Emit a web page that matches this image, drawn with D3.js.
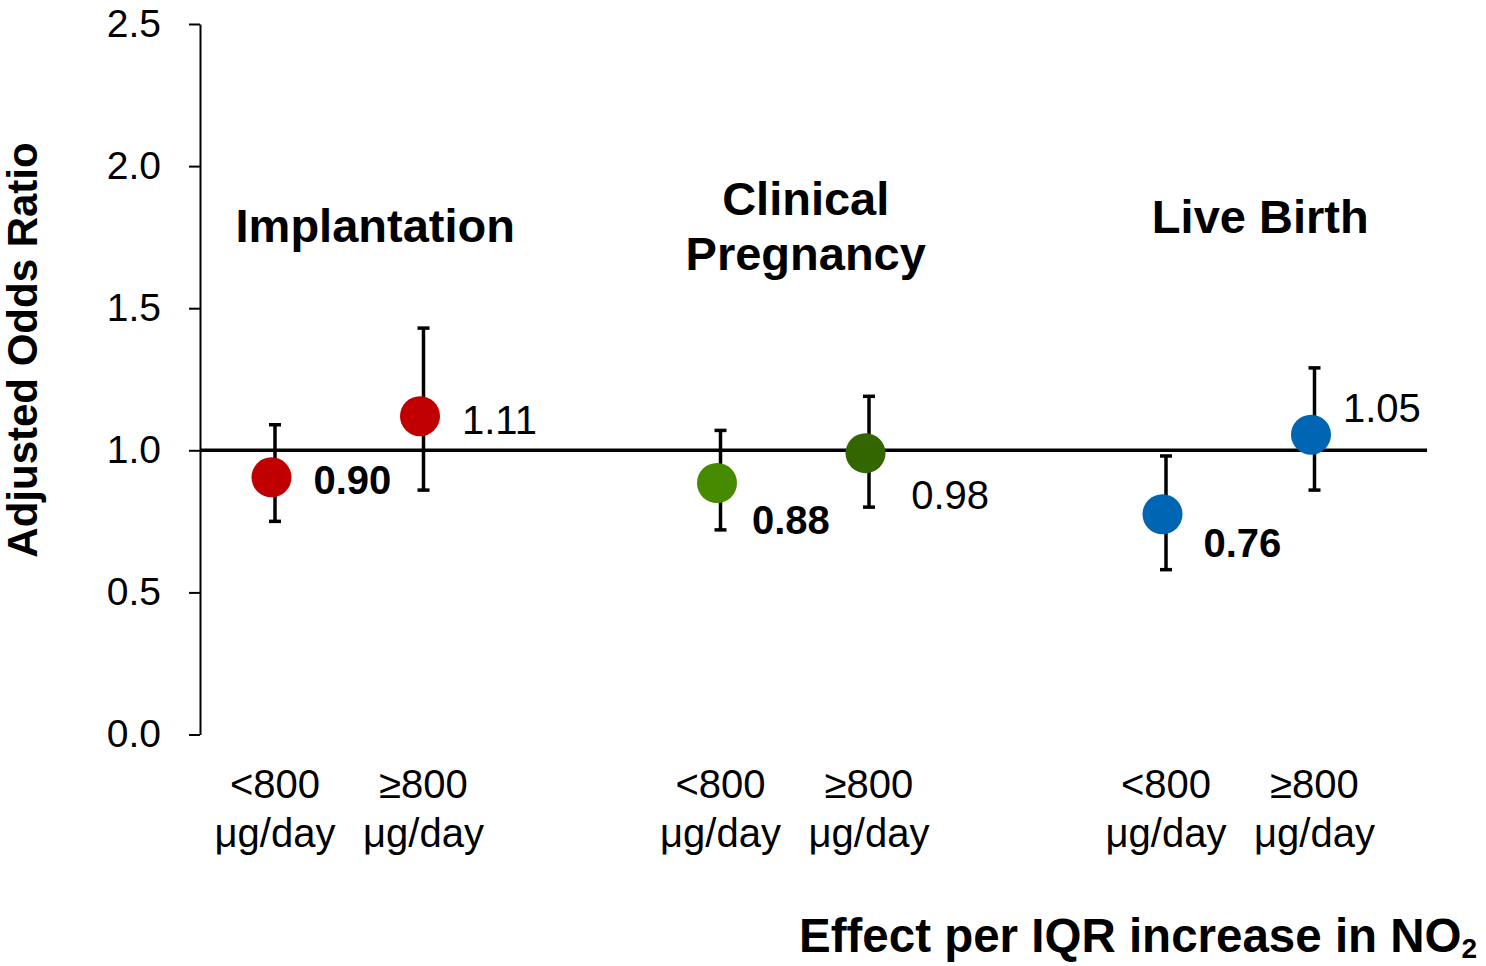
<!DOCTYPE html>
<html>
<head>
<meta charset="utf-8">
<script src="https://cdn.jsdelivr.net/npm/d3@7"></script>
<style>
  html, body { margin: 0; padding: 0; background: #fff; }
  svg { display: block; font-family: "Liberation Sans", Arial, sans-serif; }
</style>
</head>
<body>
<svg id="chart" width="1486" height="966"></svg>
<script>
// ---- data ----
const groupNames = ["Implantation", "Clinical Pregnancy", "Live Birth"];
const groupTitleLines = [["Implantation"], ["Clinical", "Pregnancy"], ["Live Birth"]];
const doseLabels = [["<800", "μg/day"], ["≥800", "μg/day"]];
const pointGroup = ["Implantation", "Implantation", "Clinical Pregnancy", "Clinical Pregnancy", "Live Birth", "Live Birth"];
const pointDose = [0, 1, 0, 1, 0, 1];
const oddsRatio = [0.905, 1.12, 0.885, 0.99, 0.775, 1.055];
const ciLower = [0.75, 0.86, 0.72, 0.80, 0.58, 0.86];
const ciUpper = [1.09, 1.43, 1.07, 1.19, 0.98, 1.29];
const valueLabels = ["0.90", "1.11", "0.88", "0.98", "0.76", "1.05"];
const valueBold = [true, false, true, false, true, false];
const pointColors = ["#C00000", "#C00000", "#468A00", "#336600", "#0066B3", "#0066B3"];
const yTicks = [0, 0.5, 1.0, 1.5, 2.0, 2.5];
const yTitle = "Adjusted Odds Ratio";
const xTitle = "Effect per IQR increase in NO";
const xTitleSub = "2";

// ---- layout (positions / styles only) ----
const labelOffsets = [[42, 17], [42, 17.6], [35, 51], [45.7, 55.6], [41, 42.7], [32, -12.3]];
const titleLayout = [{dx: 26, y: [242]}, {dx: 11, y: [215, 270]}, {dx: 20, y: [233]}];
const dotShift = -3.5;

const svg = d3.select("#chart");
const y = d3.scaleLinear().domain([0, 2.5]).range([734.5, 24]);
const xGroup = d3.scalePoint().domain(groupNames).range([349.25, 1240.25]);
const xDose = d3.scalePoint().domain([0, 1]).range([-74.25, 74.25]);
const xPos = i => xGroup(pointGroup[i]) + xDose(pointDose[i]);

// y axis
const yAxis = d3.axisLeft(y).tickValues(yTicks).tickFormat(d3.format(".1f"))
  .tickSize(11).tickSizeOuter(0).tickPadding(28);
const ga = svg.append("g").attr("transform", "translate(200,0)").call(yAxis);
ga.select(".domain").attr("stroke", "#000").attr("stroke-width", 2);
ga.selectAll(".tick line").attr("stroke", "#000").attr("stroke-width", 2);
ga.selectAll(".tick text").attr("fill", "#000").attr("font-size", 39)
  .attr("font-family", "Liberation Sans, Arial, sans-serif");

// reference line at 1.0
svg.append("line").attr("x1", 200).attr("x2", 1427)
  .attr("y1", y(1)).attr("y2", y(1))
  .attr("stroke", "#000").attr("stroke-width", 3.5);

const idx = d3.range(oddsRatio.length);

// error bars
const eb = svg.append("g").selectAll("g").data(idx).join("g");
eb.append("line").attr("x1", i => xPos(i)).attr("x2", i => xPos(i))
  .attr("y1", i => y(ciUpper[i])).attr("y2", i => y(ciLower[i]))
  .attr("stroke", "#000").attr("stroke-width", 3.5);
eb.append("line").attr("x1", i => xPos(i) - 6).attr("x2", i => xPos(i) + 6)
  .attr("y1", i => y(ciUpper[i])).attr("y2", i => y(ciUpper[i]))
  .attr("stroke", "#000").attr("stroke-width", 3.5);
eb.append("line").attr("x1", i => xPos(i) - 6).attr("x2", i => xPos(i) + 6)
  .attr("y1", i => y(ciLower[i])).attr("y2", i => y(ciLower[i]))
  .attr("stroke", "#000").attr("stroke-width", 3.5);

// dots
svg.append("g").selectAll("circle").data(idx).join("circle")
  .attr("cx", i => xPos(i) + dotShift).attr("cy", i => y(oddsRatio[i]))
  .attr("r", 20).attr("fill", i => pointColors[i]);

// value labels
svg.append("g").selectAll("text").data(idx).join("text")
  .attr("x", i => xPos(i) + dotShift + labelOffsets[i][0])
  .attr("y", i => y(oddsRatio[i]) + labelOffsets[i][1])
  .attr("font-size", 40)
  .attr("font-weight", i => valueBold[i] ? "bold" : "normal")
  .attr("fill", "#000")
  .text(i => valueLabels[i]);

// group titles
groupNames.forEach((g, gi) => {
  groupTitleLines[gi].forEach((line, li) => {
    svg.append("text")
      .attr("x", xGroup(g) + titleLayout[gi].dx)
      .attr("y", titleLayout[gi].y[li])
      .attr("text-anchor", "middle")
      .attr("font-size", 47).attr("font-weight", "bold").attr("fill", "#000")
      .text(line);
  });
});

// category labels
groupNames.forEach(g => {
  [0, 1].forEach(d => {
    const t = svg.append("text")
      .attr("x", xGroup(g) + xDose(d))
      .attr("text-anchor", "middle")
      .attr("font-size", 40).attr("fill", "#000");
    t.append("tspan").attr("x", xGroup(g) + xDose(d)).attr("y", 798).text(doseLabels[d][0]);
    t.append("tspan").attr("x", xGroup(g) + xDose(d)).attr("y", 847).text(doseLabels[d][1]);
  });
});

// y title
svg.append("text")
  .attr("transform", "translate(37,350) rotate(-90)")
  .attr("text-anchor", "middle")
  .attr("font-size", 42).attr("font-weight", "bold").attr("fill", "#000")
  .text(yTitle);

// x title
const xt = svg.append("text")
  .attr("x", 799).attr("y", 952)
  .attr("font-size", 47.5).attr("font-weight", "bold").attr("fill", "#000");
xt.append("tspan").text(xTitle);
xt.append("tspan").attr("font-size", 28).attr("dy", 6).text(xTitleSub);
</script>
</body>
</html>
